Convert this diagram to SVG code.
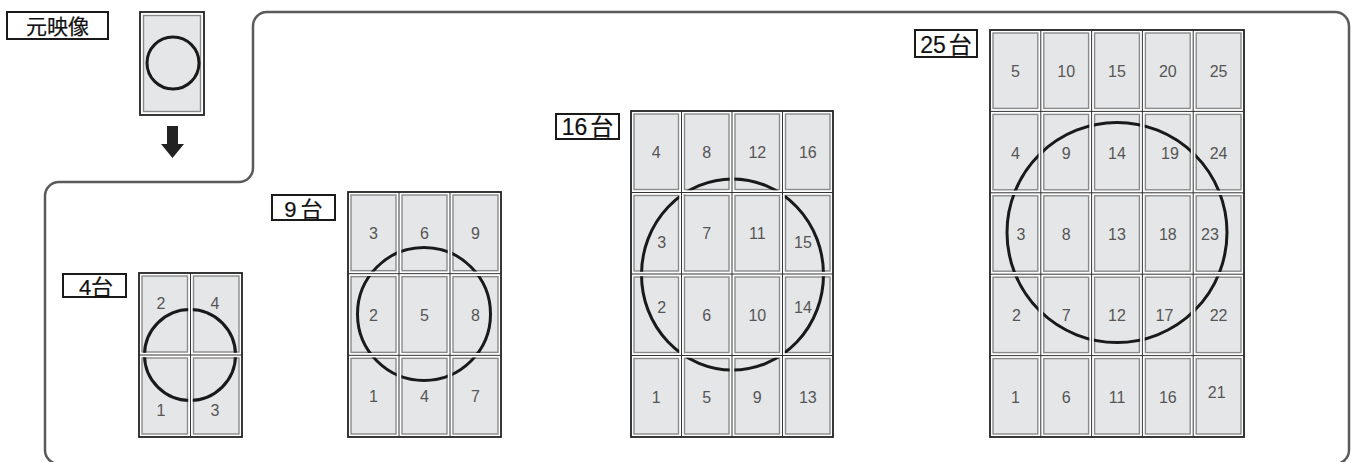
<svg xmlns="http://www.w3.org/2000/svg" width="1354" height="462" viewBox="0 0 1354 462">
<style>
.frame{fill:none;stroke:#5a5a5a;stroke-width:2.5}
.lbl{fill:#fff;stroke:#1a1a1a;stroke-width:2}
.lt{font-family:"Liberation Sans","Noto Sans CJK JP",sans-serif;fill:#111;stroke:#111;stroke-width:0.2;text-anchor:middle}
.outer{fill:#fff;stroke:#222;stroke-width:1.8}
.sep{stroke:#333;stroke-width:1;fill:none}
.tile{fill:#e5e6e8;stroke:#8a8a8a;stroke-width:1.4}
.num{font-family:"Liberation Sans",sans-serif;font-size:16px;fill:#555;text-anchor:middle}
.circ{fill:none;stroke:#1a1a1a;stroke-width:3}
</style>
<defs>
<clipPath id="c4">
<rect x="141.3" y="275.3" width="46.9" height="77.4"/><rect x="192.8" y="275.3" width="46.9" height="77.4"/>
<rect x="141.3" y="357.3" width="46.9" height="77.4"/><rect x="192.8" y="357.3" width="46.9" height="77.4"/>
</clipPath>
<clipPath id="c9">
<rect x="350.3" y="194.3" width="46.4" height="77.1"/><rect x="401.3" y="194.3" width="46.4" height="77.1"/><rect x="452.3" y="194.3" width="46.4" height="77.1"/>
<rect x="350.3" y="276" width="46.4" height="77.1"/><rect x="401.3" y="276" width="46.4" height="77.1"/><rect x="452.3" y="276" width="46.4" height="77.1"/>
<rect x="350.3" y="357.6" width="46.4" height="77.1"/><rect x="401.3" y="357.6" width="46.4" height="77.1"/><rect x="452.3" y="357.6" width="46.4" height="77.1"/>
</clipPath>
<clipPath id="c16">
<rect x="633.3" y="113.3" width="45.9" height="76.9"/><rect x="683.8" y="113.3" width="45.9" height="76.9"/><rect x="734.3" y="113.3" width="45.9" height="76.9"/><rect x="784.8" y="113.3" width="45.9" height="76.9"/>
<rect x="633.3" y="194.8" width="45.9" height="76.9"/><rect x="683.8" y="194.8" width="45.9" height="76.9"/><rect x="734.3" y="194.8" width="45.9" height="76.9"/><rect x="784.8" y="194.8" width="45.9" height="76.9"/>
<rect x="633.3" y="276.3" width="45.9" height="76.9"/><rect x="683.8" y="276.3" width="45.9" height="76.9"/><rect x="734.3" y="276.3" width="45.9" height="76.9"/><rect x="784.8" y="276.3" width="45.9" height="76.9"/>
<rect x="633.3" y="357.8" width="45.9" height="76.9"/><rect x="683.8" y="357.8" width="45.9" height="76.9"/><rect x="734.3" y="357.8" width="45.9" height="76.9"/><rect x="784.8" y="357.8" width="45.9" height="76.9"/>
</clipPath>
<clipPath id="c25">
<rect x="992.3" y="32.3" width="46.2" height="76.8"/><rect x="1043.1" y="32.3" width="46.2" height="76.8"/><rect x="1093.9" y="32.3" width="46.2" height="76.8"/><rect x="1144.7" y="32.3" width="46.2" height="76.8"/><rect x="1195.5" y="32.3" width="46.2" height="76.8"/>
<rect x="992.3" y="113.7" width="46.2" height="76.8"/><rect x="1043.1" y="113.7" width="46.2" height="76.8"/><rect x="1093.9" y="113.7" width="46.2" height="76.8"/><rect x="1144.7" y="113.7" width="46.2" height="76.8"/><rect x="1195.5" y="113.7" width="46.2" height="76.8"/>
<rect x="992.3" y="195.1" width="46.2" height="76.8"/><rect x="1043.1" y="195.1" width="46.2" height="76.8"/><rect x="1093.9" y="195.1" width="46.2" height="76.8"/><rect x="1144.7" y="195.1" width="46.2" height="76.8"/><rect x="1195.5" y="195.1" width="46.2" height="76.8"/>
<rect x="992.3" y="276.5" width="46.2" height="76.8"/><rect x="1043.1" y="276.5" width="46.2" height="76.8"/><rect x="1093.9" y="276.5" width="46.2" height="76.8"/><rect x="1144.7" y="276.5" width="46.2" height="76.8"/><rect x="1195.5" y="276.5" width="46.2" height="76.8"/>
<rect x="992.3" y="357.9" width="46.2" height="76.8"/><rect x="1043.1" y="357.9" width="46.2" height="76.8"/><rect x="1093.9" y="357.9" width="46.2" height="76.8"/><rect x="1144.7" y="357.9" width="46.2" height="76.8"/><rect x="1195.5" y="357.9" width="46.2" height="76.8"/>
</clipPath>
</defs>
<rect width="1354" height="462" fill="#fff"/>
<path class="frame" d="M59 182 H239 A14 14 0 0 0 253 168 V26 A14 14 0 0 1 267 12 H1335 A14 14 0 0 1 1349 26 V450 A14 14 0 0 1 1335 464 H59 A14 14 0 0 1 45 450 V196 A14 14 0 0 1 59 182 Z"/>

<g id="label-source">
<rect class="lbl" x="7" y="12" width="101" height="27"/>
<text class="lt" x="57.5" y="34" font-size="21">元映像</text>
</g>
<g id="source-image">
<rect class="outer" x="140" y="12" width="64" height="103"/>
<rect class="tile" x="143.5" y="15.5" width="57" height="96"/>
<circle class="circ" cx="173" cy="63" r="26"/>
</g>

<g id="connectors">
<polygon points="167,126 178,126 178,144 184,144 172.5,158 161,144 167,144" fill="#222"/>
</g>

<g id="label-4">
<rect class="lbl" x="63" y="274" width="63" height="23"/>
<text class="lt" x="96" y="295" font-size="22">4台</text>
</g>
<g id="grid-4">
<rect class="outer" x="139" y="273" width="103" height="164"/>
<path class="sep" d="M190.5 273 V437 M139 355 H242"/>
<rect class="tile" x="142" y="276" width="45.5" height="76"/><rect class="tile" x="193.5" y="276" width="45.5" height="76"/>
<rect class="tile" x="142" y="358" width="45.5" height="76"/><rect class="tile" x="193.5" y="358" width="45.5" height="76"/>
<circle class="circ" cx="190" cy="355" r="45.5" clip-path="url(#c4)"/>
<text class="num" x="161" y="309">2</text><text class="num" x="215" y="309">4</text>
<text class="num" x="161" y="416">1</text><text class="num" x="215" y="416">3</text>
</g>

<g id="label-9">
<rect class="lbl" x="272" y="195" width="63" height="25"/>
<text class="lt" x="303.5" y="217" font-size="22">9<tspan dx="4">台</tspan></text>
</g>
<g id="grid-9">
<rect class="outer" x="348" y="192" width="153" height="245"/>
<path class="sep" d="M399 192 V437 M450 192 V437 M348 273.67 H501 M348 355.33 H501"/>
<rect class="tile" x="351" y="195" width="45" height="75.67"/><rect class="tile" x="402" y="195" width="45" height="75.67"/><rect class="tile" x="453" y="195" width="45" height="75.67"/>
<rect class="tile" x="351" y="276.67" width="45" height="75.67"/><rect class="tile" x="402" y="276.67" width="45" height="75.67"/><rect class="tile" x="453" y="276.67" width="45" height="75.67"/>
<rect class="tile" x="351" y="358.33" width="45" height="75.67"/><rect class="tile" x="402" y="358.33" width="45" height="75.67"/><rect class="tile" x="453" y="358.33" width="45" height="75.67"/>
<circle class="circ" cx="424" cy="314" r="66.5" clip-path="url(#c9)"/>
<text class="num" x="373.5" y="239">3</text><text class="num" x="424.5" y="239">6</text><text class="num" x="475.5" y="239">9</text>
<text class="num" x="373.5" y="320.5">2</text><text class="num" x="424.5" y="320.5">5</text><text class="num" x="475.5" y="320.5">8</text>
<text class="num" x="373.5" y="402">1</text><text class="num" x="424.5" y="402">4</text><text class="num" x="475.5" y="402">7</text>
</g>

<g id="label-16">
<rect class="lbl" x="556" y="114" width="63" height="25"/>
<text class="lt" x="587.5" y="134.5" font-size="23">16<tspan dx="3">台</tspan></text>
</g>
<g id="grid-16">
<rect class="outer" x="631" y="111" width="202" height="326"/>
<path class="sep" d="M681.5 111 V437 M732 111 V437 M782.5 111 V437 M631 192.5 H833 M631 274 H833 M631 355.5 H833"/>
<rect class="tile" x="634" y="114" width="44.5" height="75.5"/><rect class="tile" x="684.5" y="114" width="44.5" height="75.5"/><rect class="tile" x="735" y="114" width="44.5" height="75.5"/><rect class="tile" x="785.5" y="114" width="44.5" height="75.5"/>
<rect class="tile" x="634" y="195.5" width="44.5" height="75.5"/><rect class="tile" x="684.5" y="195.5" width="44.5" height="75.5"/><rect class="tile" x="735" y="195.5" width="44.5" height="75.5"/><rect class="tile" x="785.5" y="195.5" width="44.5" height="75.5"/>
<rect class="tile" x="634" y="277" width="44.5" height="75.5"/><rect class="tile" x="684.5" y="277" width="44.5" height="75.5"/><rect class="tile" x="735" y="277" width="44.5" height="75.5"/><rect class="tile" x="785.5" y="277" width="44.5" height="75.5"/>
<rect class="tile" x="634" y="358.5" width="44.5" height="75.5"/><rect class="tile" x="684.5" y="358.5" width="44.5" height="75.5"/><rect class="tile" x="735" y="358.5" width="44.5" height="75.5"/><rect class="tile" x="785.5" y="358.5" width="44.5" height="75.5"/>
<ellipse class="circ" cx="732.5" cy="274.5" rx="91" ry="95.5" clip-path="url(#c16)"/>
<text class="num" x="656.3" y="158">4</text><text class="num" x="706.8" y="158">8</text><text class="num" x="757.3" y="158">12</text><text class="num" x="807.8" y="158">16</text>
<text class="num" x="661.7" y="247.5">3</text><text class="num" x="706.8" y="239">7</text><text class="num" x="757.3" y="239">11</text><text class="num" x="803" y="247.5">15</text>
<text class="num" x="661.7" y="312.5">2</text><text class="num" x="706.8" y="321">6</text><text class="num" x="757.3" y="321">10</text><text class="num" x="803" y="312.5">14</text>
<text class="num" x="656.3" y="402.5">1</text><text class="num" x="706.8" y="402.5">5</text><text class="num" x="757.3" y="402.5">9</text><text class="num" x="807.8" y="402.5">13</text>
</g>

<g id="label-25">
<rect class="lbl" x="915" y="30" width="62" height="27"/>
<text class="lt" x="946" y="52.5" font-size="23">25<tspan dx="3">台</tspan></text>
</g>
<g id="grid-25">
<rect class="outer" x="990" y="30" width="254" height="407"/>
<path class="sep" d="M1040.8 30 V437 M1091.6 30 V437 M1142.4 30 V437 M1193.2 30 V437 M990 111.4 H1244 M990 192.8 H1244 M990 274.2 H1244 M990 355.6 H1244"/>
<g class="tiles25">
<rect class="tile" x="993" y="33" width="44.8" height="75.4"/><rect class="tile" x="1043.8" y="33" width="44.8" height="75.4"/><rect class="tile" x="1094.6" y="33" width="44.8" height="75.4"/><rect class="tile" x="1145.4" y="33" width="44.8" height="75.4"/><rect class="tile" x="1196.2" y="33" width="44.8" height="75.4"/>
<rect class="tile" x="993" y="114.4" width="44.8" height="75.4"/><rect class="tile" x="1043.8" y="114.4" width="44.8" height="75.4"/><rect class="tile" x="1094.6" y="114.4" width="44.8" height="75.4"/><rect class="tile" x="1145.4" y="114.4" width="44.8" height="75.4"/><rect class="tile" x="1196.2" y="114.4" width="44.8" height="75.4"/>
<rect class="tile" x="993" y="195.8" width="44.8" height="75.4"/><rect class="tile" x="1043.8" y="195.8" width="44.8" height="75.4"/><rect class="tile" x="1094.6" y="195.8" width="44.8" height="75.4"/><rect class="tile" x="1145.4" y="195.8" width="44.8" height="75.4"/><rect class="tile" x="1196.2" y="195.8" width="44.8" height="75.4"/>
<rect class="tile" x="993" y="277.2" width="44.8" height="75.4"/><rect class="tile" x="1043.8" y="277.2" width="44.8" height="75.4"/><rect class="tile" x="1094.6" y="277.2" width="44.8" height="75.4"/><rect class="tile" x="1145.4" y="277.2" width="44.8" height="75.4"/><rect class="tile" x="1196.2" y="277.2" width="44.8" height="75.4"/>
<rect class="tile" x="993" y="358.6" width="44.8" height="75.4"/><rect class="tile" x="1043.8" y="358.6" width="44.8" height="75.4"/><rect class="tile" x="1094.6" y="358.6" width="44.8" height="75.4"/><rect class="tile" x="1145.4" y="358.6" width="44.8" height="75.4"/><rect class="tile" x="1196.2" y="358.6" width="44.8" height="75.4"/>
</g>
<circle class="circ" cx="1117" cy="232.5" r="110" clip-path="url(#c25)"/>
<text class="num" x="1015.4" y="77">5</text><text class="num" x="1066.2" y="77">10</text><text class="num" x="1117" y="77">15</text><text class="num" x="1167.8" y="77">20</text><text class="num" x="1218.6" y="77">25</text>
<text class="num" x="1015.4" y="158.5">4</text><text class="num" x="1066.2" y="158.5">9</text><text class="num" x="1117" y="158.5">14</text><text class="num" x="1170" y="158.5">19</text><text class="num" x="1218.6" y="158.5">24</text>
<text class="num" x="1021" y="239.5">3</text><text class="num" x="1066.2" y="239.5">8</text><text class="num" x="1117" y="239.5">13</text><text class="num" x="1167.8" y="239.5">18</text><text class="num" x="1210" y="239.5">23</text>
<text class="num" x="1016.5" y="321">2</text><text class="num" x="1066.2" y="321">7</text><text class="num" x="1117" y="321">12</text><text class="num" x="1164.5" y="321">17</text><text class="num" x="1218.6" y="321">22</text>
<text class="num" x="1015.4" y="402.5">1</text><text class="num" x="1066.2" y="402.5">6</text><text class="num" x="1117" y="402.5">11</text><text class="num" x="1167.8" y="402.5">16</text><text class="num" x="1216.7" y="398">21</text>
</g>
</svg>
